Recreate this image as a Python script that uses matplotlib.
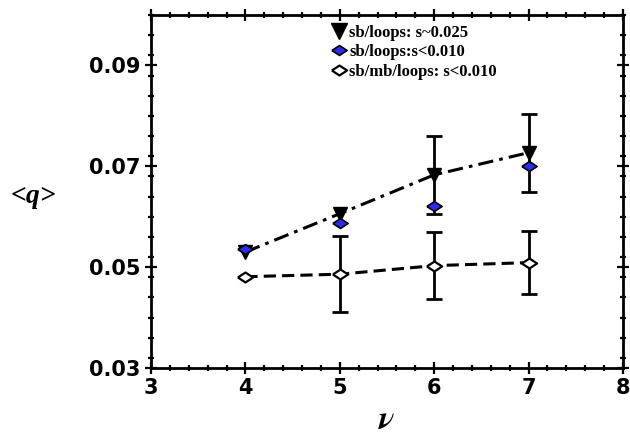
import matplotlib
matplotlib.use("Agg")
import matplotlib.pyplot as plt
from matplotlib.lines import Line2D
from matplotlib.ticker import MultipleLocator, FormatStrFormatter

plt.rcParams["mathtext.fontset"] = "stix"

# data
nu = [4, 5, 6, 7]
q_s025 = [0.0530, 0.0606, 0.0683, 0.0727]
err_s025 = [0.0, 0.0, 0.0078, 0.0077]
q_s010 = [0.0536, 0.0588, 0.0622, 0.0700]
q_mb = [0.0481, 0.0486, 0.0503, 0.0509]
err_mb = [0.0, 0.0075, 0.0067, 0.0063]

labels = ["sb/loops: s~0.025", "sb/loops:s<0.010", "sb/mb/loops: s<0.010"]

# flat diamond marker (wider than tall)
flat_diamond = [(-1, 0), (0, 0.65), (1, 0), (0, -0.65), (-1, 0)]
blue = "#2b2bf0"


def errbars(ax, x, y, err):
    # only draw the bars that exist in the reference
    xs = [a for a, e in zip(x, err) if e > 0]
    ys = [b for b, e in zip(y, err) if e > 0]
    es = [e for e in err if e > 0]
    ax.errorbar(xs, ys, yerr=es, fmt="none", ecolor="black", elinewidth=2,
                capsize=6, capthick=2, zorder=2)


fig = plt.figure(figsize=(6.3, 4.36), dpi=100)
ax = fig.add_axes([151 / 630, 1 - 368 / 436, 472 / 630, 353 / 436])

errbars(ax, nu, q_s025, err_s025)
errbars(ax, nu, q_mb, err_mb)

ax.plot(nu, q_s025, color="black", lw=2.2, ls=(0, (5, 2, 1.2, 2)),
        marker="v", ms=10, mfc="black", mec="black", zorder=3)
ax.plot(nu, q_mb, color="black", lw=2.2, ls=(0, (4, 2)),
        marker=flat_diamond, ms=11, mfc="white", mec="black", mew=1.6,
        zorder=3)
ax.plot(nu, q_s010, ls="none", marker=flat_diamond, ms=11,
        mfc=blue, mec="black", mew=1.2, zorder=4)

ax.set_xlim(3, 8)
ax.set_ylim(0.03, 0.1)
ax.xaxis.set_major_locator(MultipleLocator(1))
ax.xaxis.set_minor_locator(MultipleLocator(0.2))
ax.yaxis.set_minor_locator(MultipleLocator(0.004))
ax.yaxis.set_major_formatter(FormatStrFormatter("%.2f"))
ax.set_yticks([0.03, 0.05, 0.07, 0.09])

ax.tick_params(which="both", direction="inout", top=True, right=True,
               width=1.6, labelsize=15, pad=3)
ax.tick_params(which="major", length=9)
ax.tick_params(which="minor", length=5)
for lab in ax.get_xticklabels() + ax.get_yticklabels():
    lab.set_fontweight("bold")
for sp in ax.spines.values():
    sp.set_linewidth(2)

ax.set_xlabel(r"$\boldsymbol{\nu}$", fontsize=24, labelpad=3)
ax.set_ylabel("<q>", fontsize=20, rotation=0, family="Liberation Serif",
              style="italic", weight="bold", ha="center", va="center")
ax.yaxis.set_label_coords(-0.25, 0.485)

handles = [
    Line2D([], [], ls="none", marker="v", ms=12, mfc="black", mec="black"),
    Line2D([], [], ls="none", marker=flat_diamond, ms=11, mfc=blue,
           mec="black", mew=1.2),
    Line2D([], [], ls="none", marker=flat_diamond, ms=11, mfc="white",
           mec="black", mew=1.6),
]
ax.legend(handles, labels, loc="upper left", bbox_to_anchor=(0.36, 1.0),
          frameon=False, handlelength=1.0, handletextpad=0.1,
          labelspacing=0.2, borderaxespad=0.2,
          prop={"family": "Liberation Serif", "weight": "bold", "size": 12})

fig.savefig("out.png", dpi=100)
